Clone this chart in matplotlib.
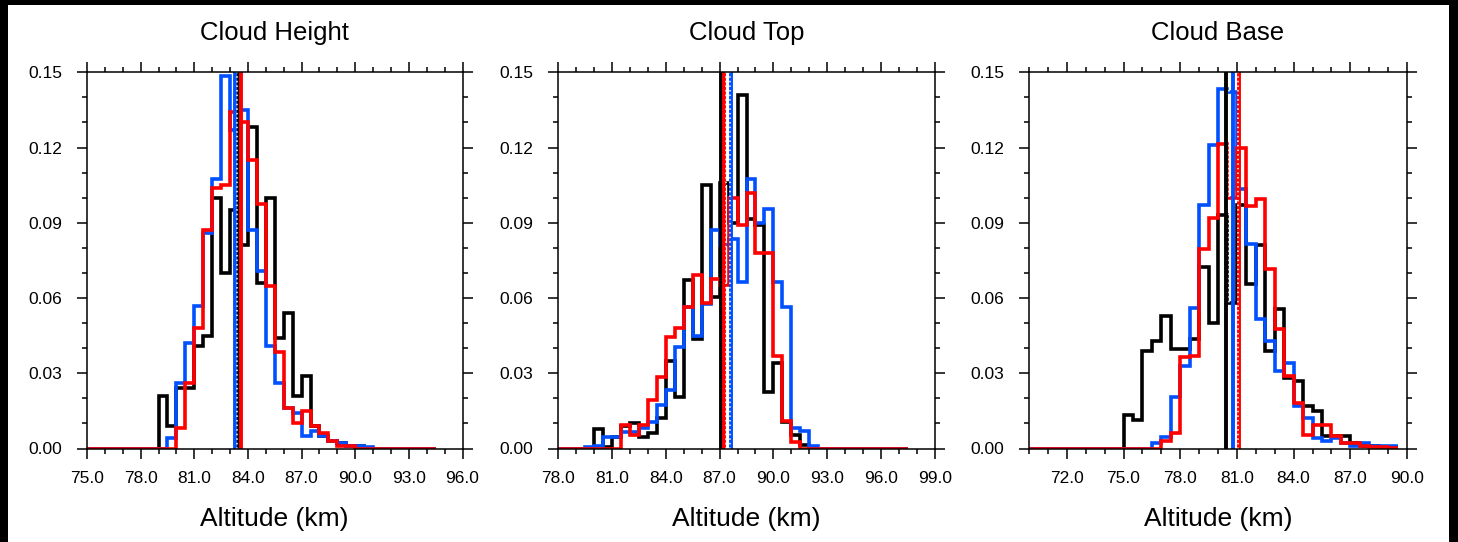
import numpy as np
import matplotlib.pyplot as plt
from matplotlib.ticker import MultipleLocator, FormatStrFormatter
from matplotlib.patches import Rectangle

plt.rcParams['font.family'] = ['Liberation Sans', 'DejaVu Sans']

binWidth = 0.5
colors = ['#000000', '#0050ff', '#ff0000']   # black, blue, red series

titles = ['Cloud Height', 'Cloud Top', 'Cloud Base']
xLimits = [(75.0, 96.0), (78.0, 99.0), (70.0, 90.0)]
histRange = [(75.0, 94.5), (78.0, 97.5), (70.0, 89.5)]

# left edge (km) of the first listed bin for black, blue, red
heightStart = [79.0, 79.5, 80.0]
heightBlack = [0.021, 0.009, 0.024, 0.024, 0.041, 0.045, 0.100, 0.070, 0.095, 0.081,
               0.128, 0.066, 0.100, 0.044, 0.054, 0.021, 0.029, 0.009, 0.005, 0.003,
               0.002, 0.001, 0.001]
heightBlue = [0.004, 0.026, 0.042, 0.057, 0.086, 0.1075, 0.1485, 0.127, 0.135, 0.087,
              0.0706, 0.041, 0.026, 0.016, 0.014, 0.005, 0.007, 0.005, 0.003, 0.002,
              0.001, 0.001, 0.0005]
heightRed = [0.008, 0.026, 0.048, 0.087, 0.104, 0.105, 0.134, 0.130, 0.115, 0.0976,
             0.0648, 0.0385, 0.016, 0.010, 0.015, 0.009, 0.006, 0.003, 0.001, 0.001]

topStart = [80.0, 79.5, 81.5]
topBlack = [0.0078, 0.0007, 0.0047, 0.009, 0.0103, 0.0047, 0.006, 0.012, 0.035, 0.0206,
            0.067, 0.0437, 0.105, 0.0606, 0.106, 0.090, 0.141, 0.0916, 0.089, 0.0225,
            0.034, 0.0106, 0.0053, 0.0013]
topBlue = [0.0007, 0.001, 0.0047, 0.0047, 0.0067, 0.0067, 0.008, 0.0106, 0.0173, 0.0233,
           0.0406, 0.0564, 0.045, 0.0577, 0.087, 0.081, 0.0837, 0.0664, 0.1076, 0.090,
           0.0956, 0.0664, 0.0564, 0.008, 0.007, 0.001]
topRed = [0.0093, 0.0053, 0.0093, 0.0193, 0.0286, 0.0446, 0.048, 0.0564, 0.069, 0.058,
          0.0677, 0.065, 0.100, 0.089, 0.102, 0.078, 0.078, 0.037, 0.011, 0.0026]

baseStart = [75.0, 76.5, 77.0]
baseBlack = [0.0135, 0.0112, 0.039, 0.043, 0.053, 0.0395, 0.0395, 0.0438, 0.0723, 0.050,
             0.093, 0.058, 0.097, 0.0657, 0.081, 0.039, 0.0557, 0.028, 0.027, 0.017,
             0.015, 0.005, 0.005, 0.005, 0.002, 0.001, 0.001, 0.0005]
baseBlue = [0.002, 0.0046, 0.0205, 0.033, 0.056, 0.097, 0.121, 0.1435, 0.142, 0.1036,
            0.0817, 0.0518, 0.043, 0.031, 0.034, 0.017, 0.012, 0.004, 0.003, 0.004,
            0.002, 0.001, 0.002, 0.001, 0.001, 0.001]
baseRed = [0.003, 0.006, 0.0365, 0.037, 0.0794, 0.092, 0.1215, 0.100, 0.120, 0.0967,
           0.0996, 0.0714, 0.0478, 0.029, 0.018, 0.0053, 0.0093, 0.0093, 0.005, 0.002,
           0.002, 0.001, 0.0007, 0.0005, 0.0003]

# vertical reference lines (black, blue, red) and white dotted lines
heightMeans = [83.52, 83.30, 83.64]
heightDots = [83.40]
topMeans = [87.09, 87.65, 87.25]
topDots = [87.34, 87.58]
baseMeans = [80.41, 80.78, 81.13]
baseDots = [80.60, 81.08]

panels = [
    (heightStart, [heightBlack, heightBlue, heightRed], heightMeans, heightDots),
    (topStart, [topBlack, topBlue, topRed], topMeans, topDots),
    (baseStart, [baseBlack, baseBlue, baseRed], baseMeans, baseDots),
]

W, H = 1458, 542
axBoxes = [(87, 462.5), (558, 935), (1029, 1407)]
axTop, axBottom = 72.3, 448.5


def padded(start, vals, lo, hi):
    nLeft = int(round((start - lo) / binWidth))
    nTotal = int(round((hi - lo) / binWidth))
    v = np.concatenate([np.zeros(nLeft), vals, np.zeros(nTotal - nLeft - len(vals))])
    edges = lo + binWidth * np.arange(len(v) + 1)
    return edges, v


fig = plt.figure(figsize=(W / 100, H / 100), dpi=100)
fig.patch.set_facecolor('black')
fig.patches.append(Rectangle((8 / W, 0), (W - 17) / W, (H - 5) / H,
                             transform=fig.transFigure, facecolor='white',
                             edgecolor='none', zorder=-10))

for i, (starts, series, means, dots) in enumerate(panels):
    x0, x1 = axBoxes[i]
    ax = fig.add_axes([x0 / W, (H - axBottom) / H, (x1 - x0) / W, (axBottom - axTop) / H])
    ax.patch.set_alpha(0)
    lo, hi = histRange[i]
    for start, vals, c in zip(starts, series, colors):
        edges, v = padded(start, vals, lo, hi)
        ax.stairs(v, edges, color=c, lw=2.6, baseline=None)
    for m, c in zip(means, colors):
        ax.axvline(m, color=c, lw=2.8)
    for d in dots:
        ax.axvline(d, color='white', lw=1.1, ls=(0, (1, 2)))

    ax.set_xlim(*xLimits[i])
    ax.set_ylim(0, 0.15)
    ax.xaxis.set_major_locator(MultipleLocator(3))
    ax.xaxis.set_minor_locator(MultipleLocator(1))
    ax.yaxis.set_major_locator(MultipleLocator(0.03))
    ax.yaxis.set_minor_locator(MultipleLocator(0.01))
    ax.xaxis.set_major_formatter(FormatStrFormatter('%.1f'))
    ax.yaxis.set_major_formatter(FormatStrFormatter('%.2f'))
    ax.tick_params(which='both', direction='out', top=True, right=True, width=1.1)
    ax.tick_params(which='major', length=7.2)
    ax.tick_params(which='minor', length=3.6)
    ax.tick_params(axis='x', which='major', pad=9, labelsize=12.5)
    ax.tick_params(axis='y', which='major', pad=10.5, labelsize=12.5)
    for s in ax.spines.values():
        s.set_linewidth(1.1)

    ax.text(0.5, (axBottom - 40) / (axBottom - axTop), titles[i], transform=ax.transAxes,
            ha='center', va='baseline', fontsize=18.5)
    ax.text(0.5, (axBottom - 526) / (axBottom - axTop), 'Altitude (km)', transform=ax.transAxes,
            ha='center', va='baseline', fontsize=19)

fig.savefig('out.png', dpi=100, facecolor=fig.get_facecolor())
